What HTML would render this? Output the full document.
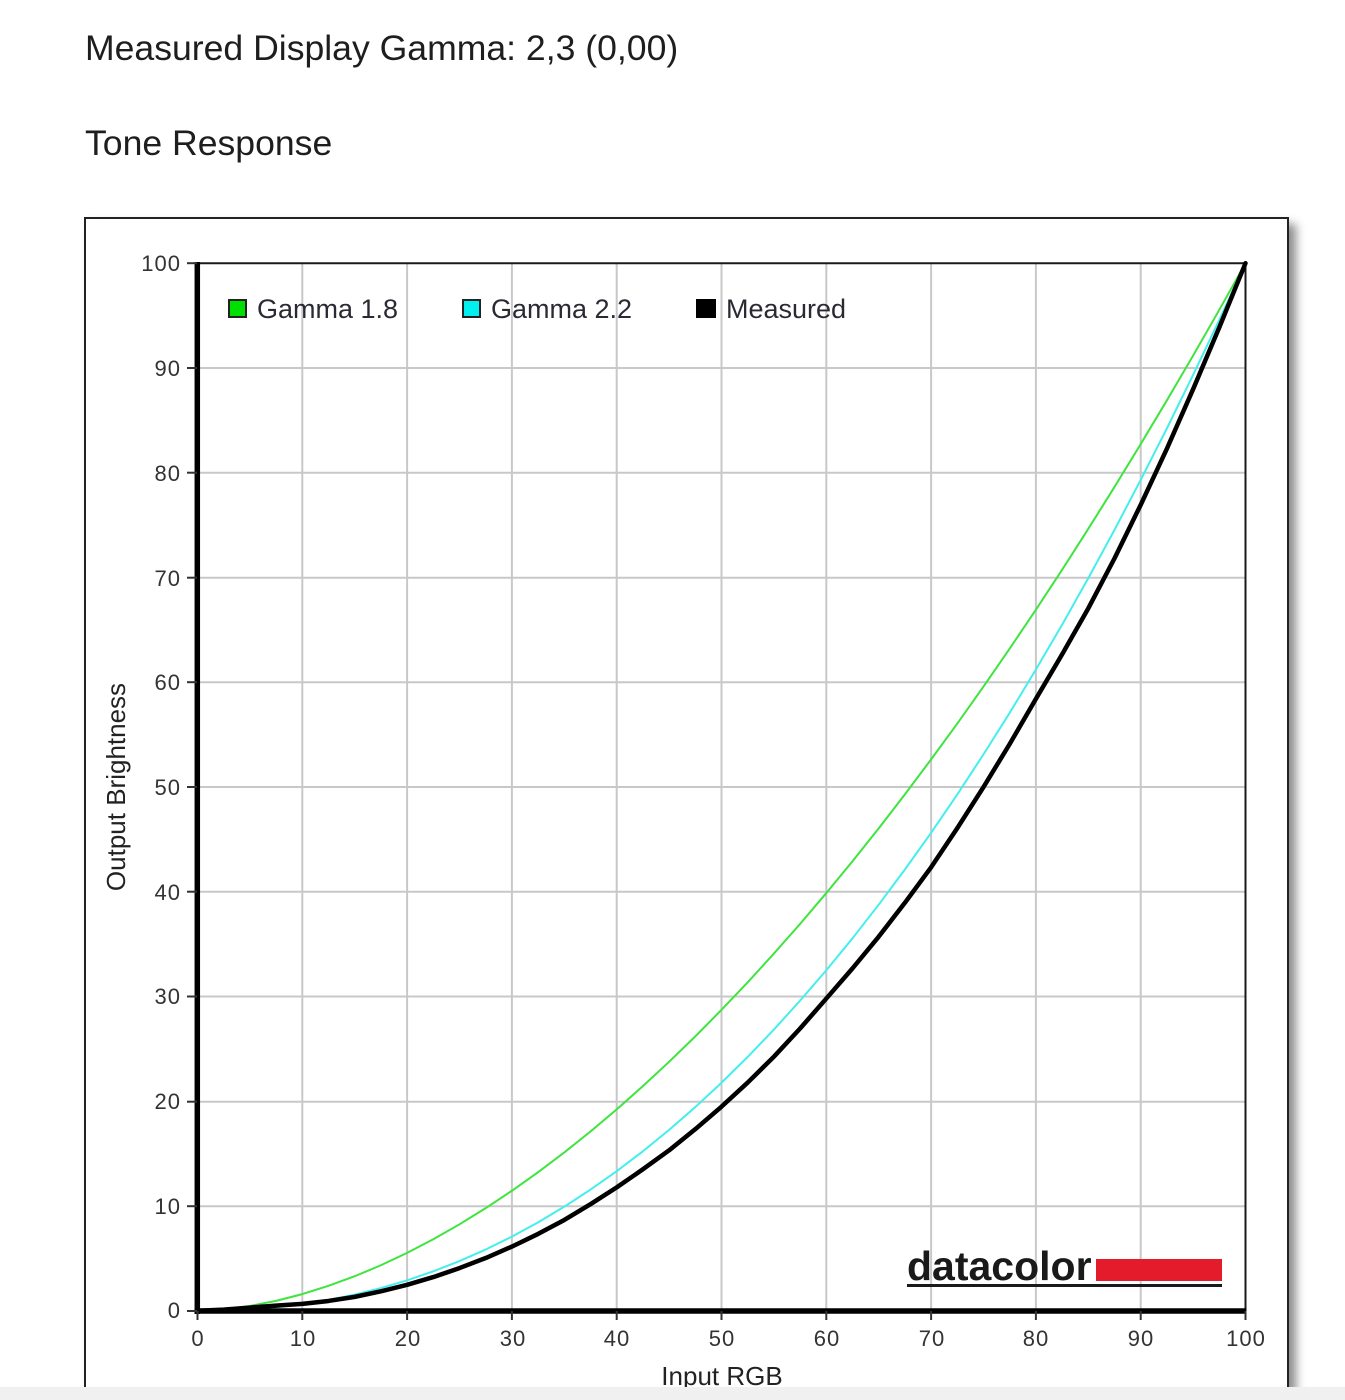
<!DOCTYPE html>
<html>
<head>
<meta charset="utf-8">
<style>
  html, body { margin:0; padding:0; background:#ffffff; width:1345px; height:1400px; overflow:hidden; }
  body { position:relative; font-family:"Liberation Sans", Arial, sans-serif; }
  .box { position:absolute; left:84px; top:217px; width:1205px; height:1172px; box-sizing:border-box; border:2px solid #222; border-bottom:none; background:#fff; box-shadow:7px 7px 9px rgba(0,0,0,0.45); }
  .strip { position:absolute; left:0; top:1387px; width:1345px; height:13px; background:#f0f0f0; }
  svg { position:absolute; left:0; top:0; }
</style>
</head>
<body>
<div class="box"></div>
<svg width="1345" height="1400" viewBox="0 0 1345 1400" xmlns="http://www.w3.org/2000/svg" font-family="Liberation Sans, Arial, sans-serif">
  <!-- Titles -->
  <text x="85" y="60" font-size="35.6" fill="#1e1e1e">Measured Display Gamma: 2,3 (0,00)</text>
  <text x="85" y="155" font-size="35.6" fill="#1e1e1e">Tone Response</text>

  <!-- Grid -->
  <g stroke="#c8c8c8" stroke-width="2">
    <line x1="302.3" y1="263" x2="302.3" y2="1311"/>
    <line x1="407.1" y1="263" x2="407.1" y2="1311"/>
    <line x1="511.9" y1="263" x2="511.9" y2="1311"/>
    <line x1="616.7" y1="263" x2="616.7" y2="1311"/>
    <line x1="721.5" y1="263" x2="721.5" y2="1311"/>
    <line x1="826.3" y1="263" x2="826.3" y2="1311"/>
    <line x1="931.1" y1="263" x2="931.1" y2="1311"/>
    <line x1="1035.9" y1="263" x2="1035.9" y2="1311"/>
    <line x1="1140.7" y1="263" x2="1140.7" y2="1311"/>

    <line x1="197" y1="1206.2" x2="1245" y2="1206.2"/>
    <line x1="197" y1="1101.7" x2="1245" y2="1101.7"/>
    <line x1="197" y1="996.5" x2="1245" y2="996.5"/>
    <line x1="197" y1="891.7" x2="1245" y2="891.7"/>
    <line x1="197" y1="787.0" x2="1245" y2="787.0"/>
    <line x1="197" y1="682.2" x2="1245" y2="682.2"/>
    <line x1="197" y1="577.7" x2="1245" y2="577.7"/>
    <line x1="197" y1="472.7" x2="1245" y2="472.7"/>
    <line x1="197" y1="368.0" x2="1245" y2="368.0"/>
  </g>

  <!-- Plot frame top/right -->
  <line x1="197" y1="263.2" x2="1246" y2="263.2" stroke="#1a1a1a" stroke-width="2"/>
  <line x1="1245.5" y1="263" x2="1245.5" y2="1311" stroke="#1a1a1a" stroke-width="2"/>

  <!-- Curves in data coordinates -->
  <g transform="translate(197.5,1310.7) scale(10.48,-10.475)" fill="none" stroke-linejoin="round" stroke-linecap="round">
    <polyline vector-effect="non-scaling-stroke" stroke="#3fe43f" stroke-width="2"
      points="0,0 2.5,0.13 5,0.455 7.5,0.94 10,1.585 12.5,2.38 15,3.29 17.5,4.34 20,5.52 22.5,6.82 25,8.247 27.5,9.79 30,11.45 32.5,13.22 35,15.11 37.5,17.11 40,19.22 42.5,21.44 45,23.76 47.5,26.19 50,28.72 52.5,31.35 55,34.09 57.5,36.93 60,39.87 62.5,42.91 65,46.05 67.5,49.29 70,52.63 72.5,56.05 75,59.58 77.5,63.21 80,66.92 82.5,70.73 85,74.64 87.5,78.64 90,82.73 92.5,86.91 95,91.18 97.5,95.55 100,100"/>
    <polyline vector-effect="non-scaling-stroke" stroke="#45eeee" stroke-width="2"
      points="0,0 2.5,0.03 5,0.137 7.5,0.34 10,0.631 12.5,1.03 15,1.54 17.5,2.16 20,2.899 22.5,3.76 25,4.737 27.5,5.84 30,7.073 32.5,8.43 35,9.932 37.5,11.56 40,13.32 42.5,15.22 45,17.26 47.5,19.44 50,21.76 52.5,24.23 55,26.84 57.5,29.60 60,32.50 62.5,35.55 65,38.76 67.5,42.12 70,45.62 72.5,49.29 75,53.11 77.5,57.08 80,61.21 82.5,65.49 85,69.94 87.5,74.54 90,79.31 92.5,84.23 95,89.33 97.5,94.58 100,100"/>
    <polyline vector-effect="non-scaling-stroke" stroke="#000000" stroke-width="4.5"
      points="0,0 2.5,0.1 5,0.3 7.5,0.48 10,0.65 12.5,0.93 15,1.32 17.5,1.85 20,2.47 22.5,3.21 25,4.07 27.5,5.03 30,6.12 32.5,7.33 35,8.66 37.5,10.17 40,11.77 42.5,13.5 45,15.31 47.5,17.33 50,19.48 52.5,21.78 55,24.25 57.5,26.94 60,29.8 62.5,32.68 65,35.71 67.5,38.94 70,42.33 72.5,46.07 75,49.99 77.5,54.1 80,58.41 82.5,62.66 85,67.05 87.5,71.82 90,76.93 92.5,82.29 95,87.97 97.5,93.87 100,100"/>
  </g>

  <!-- Axes (thick left and bottom) -->
  <line x1="197.3" y1="262" x2="197.3" y2="1314" stroke="#000" stroke-width="5.5"/>
  <line x1="194.5" y1="1311" x2="1246.5" y2="1311" stroke="#000" stroke-width="5.5"/>

  <!-- Y ticks -->
  <g stroke="#333" stroke-width="2">
    <line x1="187" y1="263.2" x2="197" y2="263.2"/>
    <line x1="187" y1="368.0" x2="197" y2="368.0"/>
    <line x1="187" y1="472.7" x2="197" y2="472.7"/>
    <line x1="187" y1="577.7" x2="197" y2="577.7"/>
    <line x1="187" y1="682.2" x2="197" y2="682.2"/>
    <line x1="187" y1="787.0" x2="197" y2="787.0"/>
    <line x1="187" y1="891.7" x2="197" y2="891.7"/>
    <line x1="187" y1="996.5" x2="197" y2="996.5"/>
    <line x1="187" y1="1101.7" x2="197" y2="1101.7"/>
    <line x1="187" y1="1206.2" x2="197" y2="1206.2"/>
    <line x1="187" y1="1311" x2="197" y2="1311"/>
  </g>
  <!-- X ticks -->
  <g stroke="#333" stroke-width="2">
    <line x1="197.5" y1="1311" x2="197.5" y2="1320"/>
    <line x1="302.3" y1="1311" x2="302.3" y2="1320"/>
    <line x1="407.1" y1="1311" x2="407.1" y2="1320"/>
    <line x1="511.9" y1="1311" x2="511.9" y2="1320"/>
    <line x1="616.7" y1="1311" x2="616.7" y2="1320"/>
    <line x1="721.5" y1="1311" x2="721.5" y2="1320"/>
    <line x1="826.3" y1="1311" x2="826.3" y2="1320"/>
    <line x1="931.1" y1="1311" x2="931.1" y2="1320"/>
    <line x1="1035.9" y1="1311" x2="1035.9" y2="1320"/>
    <line x1="1140.7" y1="1311" x2="1140.7" y2="1320"/>
    <line x1="1245.5" y1="1311" x2="1245.5" y2="1320"/>
  </g>

  <!-- Y tick labels -->
  <g font-size="22" fill="#333" text-anchor="end" letter-spacing="1">
    <text x="181" y="271">100</text>
    <text x="181" y="376">90</text>
    <text x="181" y="481">80</text>
    <text x="181" y="586">70</text>
    <text x="181" y="690">60</text>
    <text x="181" y="795">50</text>
    <text x="181" y="900">40</text>
    <text x="181" y="1004">30</text>
    <text x="181" y="1109">20</text>
    <text x="181" y="1214">10</text>
    <text x="181" y="1318">0</text>
  </g>
  <!-- X tick labels -->
  <g font-size="22" fill="#333" text-anchor="middle" letter-spacing="1">
    <text x="198" y="1346">0</text>
    <text x="303" y="1346">10</text>
    <text x="408" y="1346">20</text>
    <text x="513" y="1346">30</text>
    <text x="617" y="1346">40</text>
    <text x="722" y="1346">50</text>
    <text x="827" y="1346">60</text>
    <text x="932" y="1346">70</text>
    <text x="1036" y="1346">80</text>
    <text x="1141" y="1346">90</text>
    <text x="1246" y="1346">100</text>
  </g>

  <!-- Axis titles -->
  <text x="722" y="1385" font-size="26" fill="#222" text-anchor="middle">Input RGB</text>
  <text transform="translate(125,787) rotate(-90)" font-size="26" fill="#222" text-anchor="middle">Output Brightness</text>

  <!-- Legend -->
  <rect x="229" y="300" width="17" height="17" fill="#00e000" stroke="#222" stroke-width="2"/>
  <text x="257" y="318" font-size="27" fill="#2a2a35">Gamma 1.8</text>
  <rect x="463" y="300" width="17" height="17" fill="#00f0f0" stroke="#222" stroke-width="2"/>
  <text x="491" y="318" font-size="27" fill="#2a2a35">Gamma 2.2</text>
  <rect x="696" y="299" width="20" height="19" fill="#000"/>
  <text x="726" y="318" font-size="27" fill="#2a2a35">Measured</text>

  <!-- datacolor logo -->
  <text x="907" y="1280" font-size="41" font-weight="bold" fill="#1a1a1a" letter-spacing="0">datacolor</text>
  <rect x="1096" y="1259" width="126" height="22" fill="#e31b2a"/>
  <rect x="907" y="1284" width="315" height="3" fill="#1a1a1a"/>
</svg>
<div class="strip"></div>
</body>
</html>
